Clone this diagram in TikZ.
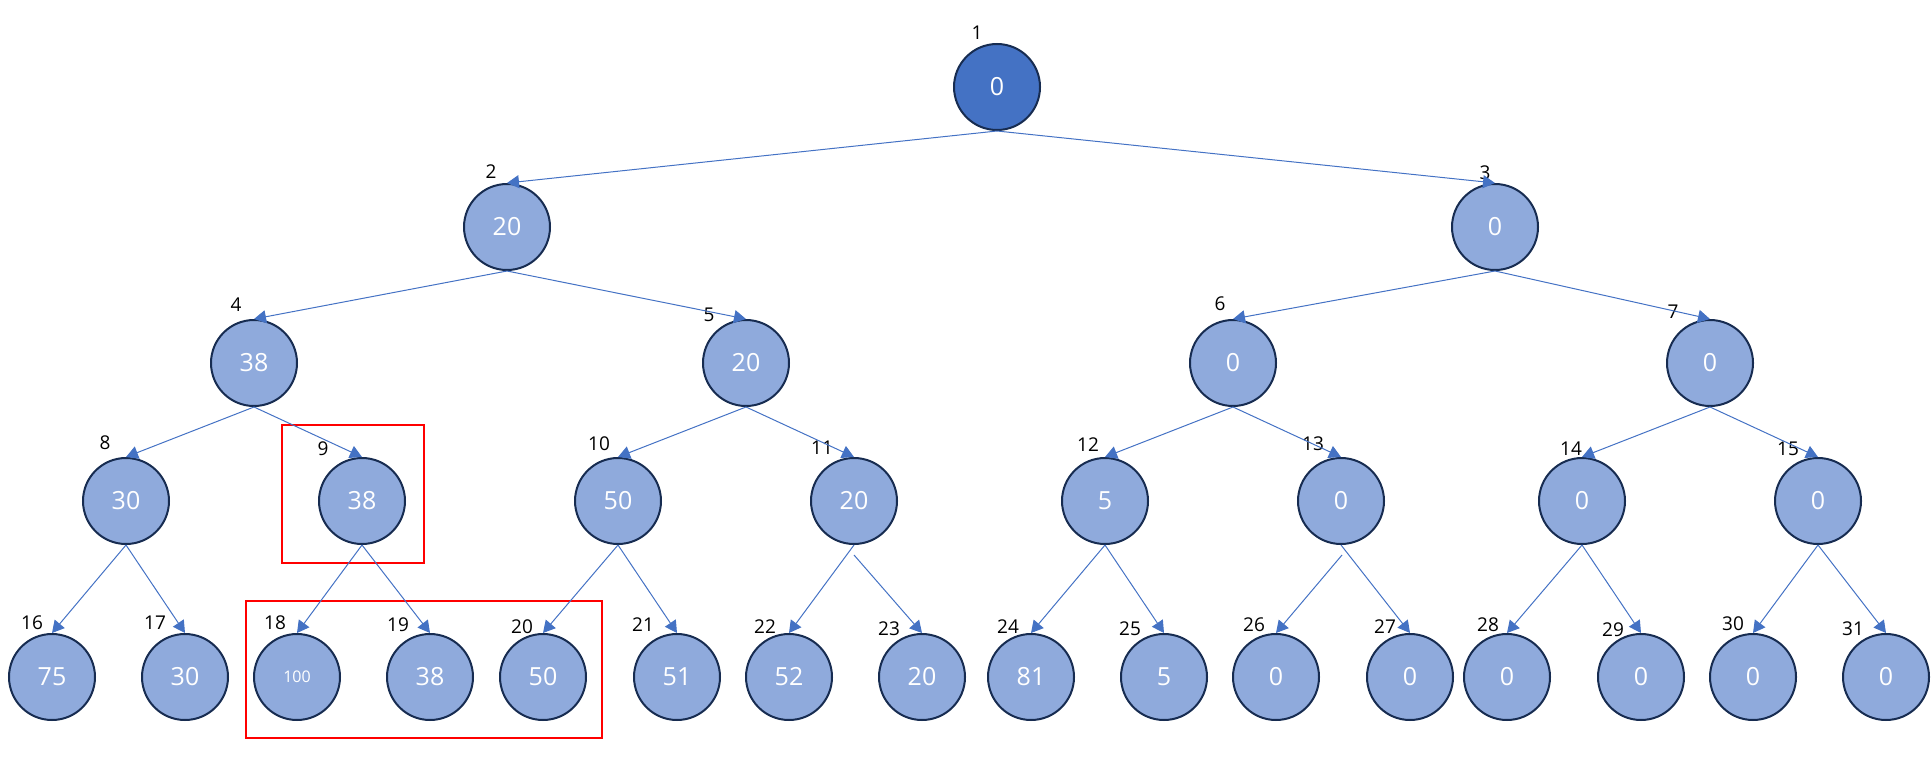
\documentclass[tikz,border=0pt]{standalone}
\usepackage{fontspec}
\setmainfont{Open Sans}
\usetikzlibrary{arrows.meta}
\definecolor{nodefill}{HTML}{8FAADC}
\definecolor{rootfill}{HTML}{4472C4}
\definecolor{nodeline}{HTML}{172C51}
\definecolor{edgecol}{HTML}{4472C4}
\definecolor{boxred}{HTML}{FF0000}
\begin{document}
\begin{tikzpicture}[x=1pt,y=-1pt,
  tnode/.style={circle,draw=nodeline,line width=2pt,fill=nodefill,minimum size=86pt,inner sep=0pt,
    text=white,font=\fontsize{25}{29}\selectfont},
  rootnode/.style={tnode,fill=rootfill},
  idx/.style={inner sep=0pt,text=black,font=\fontsize{19}{23}\selectfont},
  edge/.style={draw=edgecol,line width=1pt,-{Triangle[length=12pt,width=13pt]}},
  redbox/.style={draw=boxred,line width=2.5pt}]
\useasboundingbox (0,0) rectangle (1932,776);
% red boxes
\draw[redbox] (282,425) rectangle (424,563);
\draw[redbox] (246,601) rectangle (602,738);
% nodes
\node[rootnode] (n1) at (997,87) {0};
\foreach \n/\x/\y/\v in {2/507/227/20,3/1495/227/0,
  4/254/363/38,5/746/363/20,6/1233/363/0,7/1710/363/0,
  8/126/501/30,9/362/501/38,10/618/501/50,11/854/501/20,12/1105/501/5,13/1341/501/0,14/1582/501/0,15/1818/501/0,
  16/52/677/75,17/185/677/30,19/430/677/38,20/543/677/50,21/677/677/51,22/789/677/52,23/922/677/20,
  24/1031/677/81,25/1164/677/5,26/1276/677/0,27/1410/677/0,28/1507/677/0,29/1641/677/0,30/1753/677/0,31/1886/677/0}
  \node[tnode] (n\n) at (\x,\y) {\v};
\node[tnode,font=\fontsize{16}{19}\selectfont] (n18) at (297,677) {100};
% index labels
\foreach \n/\x/\y in {1/977/33,2/491/172,3/1485/173,
  4/236/305,5/709/315,6/1220/304,7/1673/312,
  8/105/443,9/323/449,10/599/444,11/822/448,12/1088/445,13/1313/444,14/1571/449,15/1788/449,
  16/32/623,17/155/623,18/275/623,19/398/625,20/522/627,21/643/625,22/765/627,23/889/629,
  24/1008/627,25/1130/629,26/1254/625,27/1385/627,28/1488/625,29/1613/630,30/1733/624,31/1853/629}
  \node[idx] (l\n) at (\x,\y) {\n};
% edges
\coordinate (s11) at (854,555);
\coordinate (s13) at (1342,555);
\foreach \p/\c in {1/2,1/3,2/4,2/5,3/6,3/7,4/8,4/9,5/10,5/11,6/12,6/13,7/14,7/15,
  8/16,8/17,9/18,9/19,10/20,10/21,11/22,12/24,12/25,13/27,14/28,14/29,15/30,15/31}
  \draw[edge] (n\p.south) -- (n\c.north);
\draw[edge] (s11) -- (n23.north);
\draw[edge] (s13) -- (n26.north);
\end{tikzpicture}
\end{document}
